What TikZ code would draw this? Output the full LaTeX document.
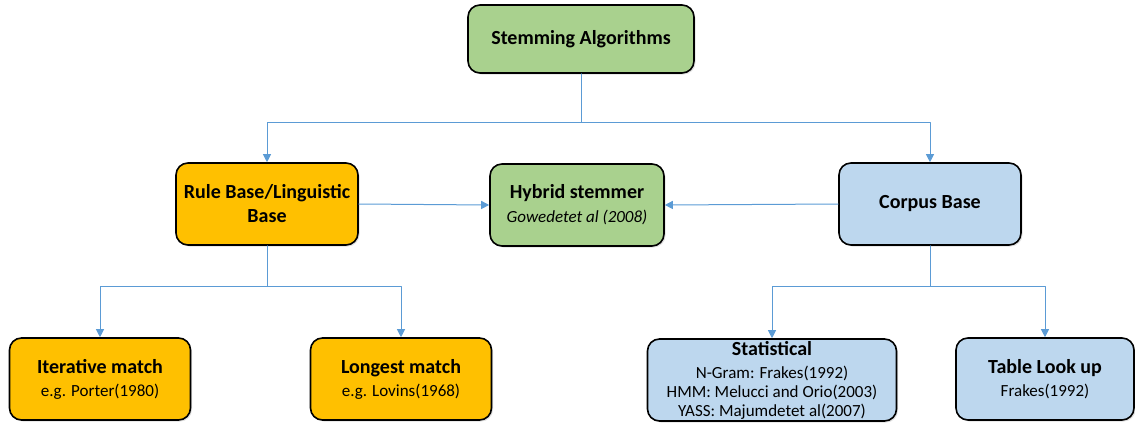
\documentclass[tikz,border=0pt]{standalone}
\usepackage{fontspec}
\setmainfont{Carlito}
\usetikzlibrary{arrows.meta,shadows}

\definecolor{boxgreen}{HTML}{A9D18E}
\definecolor{boxorange}{HTML}{FFC000}
\definecolor{boxblue}{HTML}{BDD7EE}
\definecolor{linkblue}{HTML}{5B9BD5}

\newcommand\notefont{\fontsize{17}{19}\selectfont\mdseries}

\tikzset{
  algbox/.style={draw=black,line width=1.6pt,rounded corners=12pt,align=center,
    font=\fontsize{20}{23}\selectfont\bfseries,inner sep=0pt,
    drop shadow={shadow xshift=1.5pt,shadow yshift=-1.5pt,opacity=0.25}},
  link/.style={draw=linkblue,line width=1pt},
  linkarrow/.style={link,-{Triangle[length=8pt,width=8pt]}}
}

\begin{document}
\begin{tikzpicture}[x=1pt,y=-1pt,line cap=round,line join=round]
\useasboundingbox (0,0) rectangle (1135,423);
% top
\node[algbox,fill=boxgreen,minimum width=226pt,minimum height=68pt] (alg) at (581,39) {Stemming Algorithms};
% middle row
\node[algbox,fill=boxorange,minimum width=182pt,minimum height=82pt,font=\fontsize{20}{24}\selectfont\bfseries] (rule) at (267,204) {Rule Base/Linguistic\\Base};
\node[algbox,fill=boxgreen,minimum width=174pt,minimum height=82pt] (hybrid) at (577,205) {Hybrid stemmer\\[1pt]{\notefont\itshape Gowedetet al (2008)}};
\node[algbox,fill=boxblue,minimum width=182pt,minimum height=82pt] (corpus) at (930,204) {Corpus Base};
% bottom row
\node[algbox,fill=boxorange,minimum width=181pt,minimum height=82pt] (iter) at (100,379) {Iterative match\\{\notefont e.g. Porter(1980)}};
\node[algbox,fill=boxorange,minimum width=181pt,minimum height=82pt] (long) at (401,379) {Longest match\\{\notefont e.g. Lovins(1968)}};
\node[algbox,fill=boxblue,minimum width=249pt,minimum height=82pt,font=\fontsize{20}{19}\selectfont\bfseries] (stat) at (772,380) {Statistical\\[4pt]{\notefont N-Gram: Frakes(1992)}\\{\notefont HMM: Melucci and Orio(2003)}\\{\notefont YASS: Majumdetet al(2007)}};
\node[algbox,fill=boxblue,minimum width=178pt,minimum height=82pt] (table) at (1045,379) {Table Look up\\{\notefont Frakes(1992)}};

% connectors
\coordinate (j1) at (581,122);
\coordinate (j2) at (267,286);
\coordinate (j3) at (930,286);
\draw[link] (alg.south) -- (j1);
\draw[linkarrow] (j1) -| (rule.north);
\draw[linkarrow] (j1) -| (corpus.north);
\draw[link] (rule.south) -- (j2);
\draw[linkarrow] (j2) -| (iter.north);
\draw[linkarrow] (j2) -| (long.north);
\draw[link] (corpus.south) -- (j3);
\draw[linkarrow] (j3) -| (stat.north);
\draw[linkarrow] (j3) -| (table.north);
\draw[linkarrow] (rule.east) -- (hybrid.west);
\draw[linkarrow] (corpus.west) -- (hybrid.east);
\end{tikzpicture}
\end{document}
